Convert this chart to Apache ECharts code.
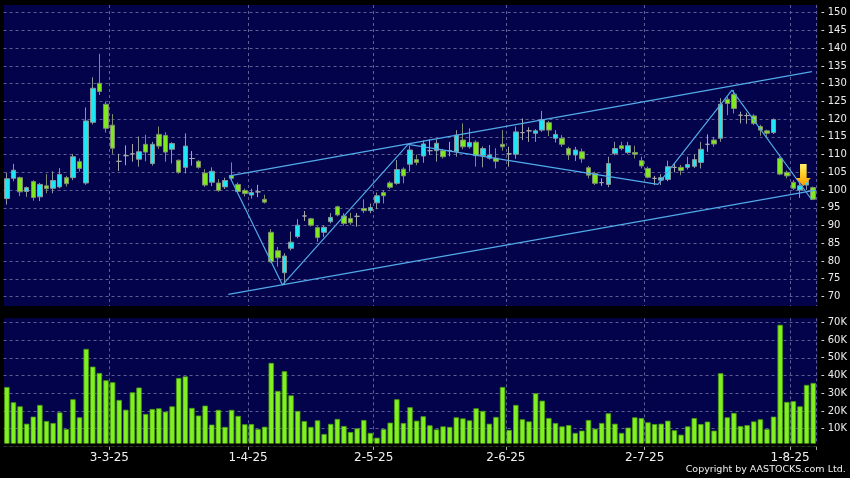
<!DOCTYPE html>
<html><head><meta charset="utf-8">
<script src="https://cdn.jsdelivr.net/npm/echarts@6/dist/echarts.min.js"></script>
<style>html,body{margin:0;padding:0;background:#000;}#c{width:850px;height:478px;}</style>
</head><body><div id="c"></div>
<script>
// trading days (D-M-YY)
const dates = [
'7-2-25','10-2-25','11-2-25','12-2-25','13-2-25','14-2-25','17-2-25','18-2-25','19-2-25','20-2-25','21-2-25','24-2-25','25-2-25','26-2-25','27-2-25','28-2-25',
'3-3-25','4-3-25','5-3-25','6-3-25','7-3-25','10-3-25','11-3-25','12-3-25','13-3-25','14-3-25','17-3-25','18-3-25','19-3-25','20-3-25','21-3-25','24-3-25','25-3-25','26-3-25','27-3-25','28-3-25','31-3-25',
'1-4-25','2-4-25','3-4-25','7-4-25','8-4-25','9-4-25','10-4-25','11-4-25','14-4-25','15-4-25','16-4-25','17-4-25','22-4-25','23-4-25','24-4-25','25-4-25','28-4-25','29-4-25','30-4-25',
'2-5-25','6-5-25','7-5-25','8-5-25','9-5-25','12-5-25','13-5-25','14-5-25','15-5-25','16-5-25','19-5-25','20-5-25','21-5-25','22-5-25','23-5-25','26-5-25','27-5-25','28-5-25','29-5-25','30-5-25',
'2-6-25','3-6-25','4-6-25','5-6-25','6-6-25','9-6-25','10-6-25','11-6-25','12-6-25','13-6-25','16-6-25','17-6-25','18-6-25','19-6-25','20-6-25','23-6-25','24-6-25','25-6-25','26-6-25','27-6-25','30-6-25',
'2-7-25','3-7-25','4-7-25','7-7-25','8-7-25','9-7-25','10-7-25','11-7-25','14-7-25','15-7-25','16-7-25','17-7-25','18-7-25','21-7-25','22-7-25','23-7-25','24-7-25','25-7-25','28-7-25','29-7-25','30-7-25','31-7-25',
'1-8-25','4-8-25','5-8-25','6-8-25'];
const monthLabels = ['3-3-25','1-4-25','2-5-25','2-6-25','2-7-25','1-8-25'];

const opens = [97.6,103.3,103.5,99.6,102.4,98.1,101.2,100.5,100.9,103.5,103.5,108.0,102.0,119.1,130.1,124.2,
118.3,108.1,109.7,110.2,108.7,112.9,107.5,115.7,115.4,111.5,108.4,106.4,108.9,108.1,104.8,102.2,102.0,100.9,104.1,101.6,99.9,
98.6,99.5,97.4,88.1,82.9,76.7,83.6,86.9,92.7,91.9,89.4,88.1,91.1,95.3,92.7,92.0,92.6,94.8,94.2,
96.4,99.3,102.0,101.9,105.9,107.3,108.6,109.6,111.1,111.1,111.1,111.1,110.8,114.1,112.2,113.5,109.7,109.0,109.0,112.9,
110.2,110.1,116.2,116.7,116.0,116.9,119.0,114.6,114.6,111.7,109.9,110.8,106.3,104.7,102.1,101.6,110.3,112.5,110.6,110.6,108.3,
106.1,103.3,102.8,103.0,106.4,106.4,106.4,106.7,107.8,112.9,114.1,114.6,125.6,127.0,121.1,121.0,120.9,117.9,116.7,116.2,108.9,105.0,
102.2,100.0,101.4,100.7];
const closes = [103.2,105.6,99.5,100.7,97.9,101.6,100.4,102.7,104.4,101.8,109.4,106.1,119.5,128.7,127.8,117.4,
111.8,108.1,109.7,110.2,110.8,110.7,112.9,112.4,110.7,113.1,105.0,112.4,108.9,106.4,101.4,105.3,99.9,102.7,103.3,99.6,99.0,
99.3,99.5,96.6,79.8,80.9,81.4,85.3,90.1,92.7,90.1,86.6,89.5,92.3,93.0,90.6,90.8,92.6,94.2,95.1,
98.4,98.4,100.8,105.8,104.0,111.3,107.8,113.0,111.1,113.2,109.4,111.1,115.5,112.2,113.4,109.7,111.7,109.9,108.1,112.2,
110.2,116.4,116.2,116.7,116.7,119.9,116.9,115.7,112.9,109.9,111.3,108.8,104.2,101.9,102.1,107.5,111.7,111.7,112.5,110.1,106.8,
103.6,103.3,103.5,106.6,106.4,105.5,107.2,108.6,111.5,112.9,113.0,124.2,124.4,123.0,121.1,121.0,118.8,116.9,116.0,119.9,104.5,104.0,
100.5,101.2,102.8,97.4];
const lows = [95.9,102.5,98.3,98.1,97.0,96.9,99.1,99.1,100.5,101.0,102.8,105.2,101.5,118.5,126.8,116.2,
110.2,105.4,107.0,108.0,106.6,108.1,106.9,111.6,108.0,107.5,104.6,104.7,106.9,106.0,100.9,101.1,99.5,100.3,102.7,99.2,98.2,
97.6,98.0,96.2,79.5,78.4,73.5,83.0,86.4,91.3,89.7,85.4,86.8,90.6,92.6,90.0,90.2,89.7,93.5,93.5,
94.6,96.2,100.3,101.5,101.9,105.2,107.0,107.7,109.9,108.0,108.9,109.5,109.4,111.5,111.7,106.6,106.4,108.6,106.1,111.1,
106.6,108.8,114.1,113.6,113.6,116.4,115.2,113.4,112.2,108.5,108.2,107.7,103.3,101.4,101.2,100.8,109.8,111.2,110.2,108.9,106.1,
103.3,101.4,101.4,102.5,105.0,104.2,105.8,106.2,106.1,110.8,112.2,113.6,121.1,121.6,118.8,118.7,118.3,115.3,115.0,115.8,104.2,103.3,
100.0,97.8,100.0,97.2];
const highs = [104.9,107.4,103.8,101.0,102.8,102.0,104.5,105.3,106.2,104.0,110.2,108.9,123.3,131.8,138.4,124.9,
121.4,110.2,112.6,113.0,115.1,115.6,113.6,117.9,116.3,113.5,108.6,116.0,111.0,108.5,105.9,106.4,103.1,103.5,107.8,102.1,100.4,
100.4,101.5,98.7,89.0,84.0,82.2,88.3,91.8,94.1,92.2,89.8,90.0,93.5,95.6,93.5,93.6,93.5,97.4,96.2,
99.3,100.0,102.5,108.5,106.4,112.5,110.0,114.0,114.3,114.3,111.6,113.6,116.9,118.8,117.4,114.0,112.3,112.7,111.8,116.9,
112.2,117.9,120.2,117.7,117.2,122.3,119.5,116.9,115.5,112.2,112.2,111.7,106.8,105.2,103.3,109.4,113.6,113.6,113.6,112.5,109.4,
106.6,104.0,104.5,108.3,107.4,107.1,109.4,110.1,113.6,115.7,115.0,125.9,126.3,128.2,122.1,121.8,121.4,118.4,117.0,120.2,109.4,105.5,
102.8,102.3,103.3,101.0];
// volume in thousands of shares
const volumesK = [33.5,24.9,22.6,12.8,16.8,23.4,14.3,13.2,19.2,9.8,26.6,16.4,55.0,45.0,41.4,37.3,
36.2,26.2,20.7,30.5,33.2,18.3,21.1,21.5,19.6,22.6,38.6,39.5,21.7,17.4,23.0,12.3,20.6,11.0,20.6,17.2,12.5,
12.6,9.8,11.1,47.1,31.3,42.4,28.8,20.0,14.3,11.0,14.7,7.0,12.7,15.5,11.5,8.1,10.2,14.9,7.6,
4.9,9.8,13.4,26.6,13.2,22.1,14.5,17.0,11.9,9.6,11.3,11.0,16.4,15.8,14.7,21.5,20.0,12.8,16.6,33.5,
9.3,23.4,15.3,14.1,30.0,25.8,16.0,13.2,11.3,12.0,7.6,8.9,14.9,10.0,13.2,18.7,12.8,7.6,10.6,16.4,16.0,
13.6,12.6,12.8,14.5,9.1,6.6,11.3,16.0,12.6,14.0,8.9,41.3,16.4,18.9,11.5,12.0,14.1,15.3,9.8,16.8,68.6,25.1,
25.5,22.6,34.7,35.8];
const priceAxis = {min:70, max:150, step:5};
const volAxis = {min:0, max:70000, step:10000};
// trend lines: [candle position, price]
const zigzag = [[33.65,104.05],[41.7,73.25],[60.7,112.9],[98.5,101.6],[109.7,128.2],[121.8,97.2]];
const channelUpper = [[33.65,104.0],[121.8,133.4]];
const channelLower = [[33.5,70.6],[122.4,100.0]];
const arrowPoint = [[120.5,104.25]];

const FONT = 'DejaVu Sans';
const N = dates.length;
const isMonthStart = (i, v) => monthLabels.indexOf(v === undefined ? dates[i] : v) >= 0;
const L = 3.55, W = 813;
const grid = [
  {left:L, width:W, top:12.7, height:283.8},
  {left:L, width:W, top:322.3, height:124.1},
  {left:L, width:W, top:5, height:301},
  {left:L, width:W, top:318.3, height:124.9}
];
const dashed = {color:'#5e5e94', type:[3,3], width:1};
const lineColor = '#52aae8';
const chart = echarts.init(document.getElementById('c'), null, {renderer:'canvas'});
chart.setOption({
  backgroundColor:'#000',
  animation:false,
  grid: grid,
  graphic: [
    {type:'rect', z:-1, shape:{x:4, y:5, width:814, height:301}, style:{fill:'#03034b'}},
    {type:'rect', z:-1, shape:{x:4, y:318.3, width:814, height:125}, style:{fill:'#03034b'}},
    {type:'rect', z:100, shape:{x:0, y:443.4, width:850, height:3.2}, style:{fill:'#000'}},
    {type:'text', z:100, right:4.3, top:465, style:{text:'Copyright by AASTOCKS.com Ltd.', fill:'#f0f0f0', font:'9.5px "DejaVu Sans"'}}
  ],
  xAxis: [
    {type:'category', gridIndex:0, data:dates, boundaryGap:true, axisLine:{show:false}, axisTick:{show:false}, axisLabel:{show:false}, splitLine:{show:false}},
    {type:'category', gridIndex:1, data:dates, boundaryGap:true, axisLine:{show:false},
      axisTick:{show:true, interval:isMonthStart, length:3.5, lineStyle:{color:'#b0b0b0'}},
      axisLabel:{show:true, interval:isMonthStart, color:'#f0f0f0', fontFamily:FONT, fontSize:12, margin:5, padding:[0,6.6,0,0]},
      splitLine:{show:false}},
    {type:'category', gridIndex:2, data:dates, boundaryGap:true, axisLine:{show:false}, axisTick:{show:false}, axisLabel:{show:false},
      splitLine:{show:true, interval:isMonthStart, lineStyle:dashed}},
    {type:'category', gridIndex:3, data:dates, boundaryGap:true, axisLine:{show:false}, axisTick:{show:false}, axisLabel:{show:false},
      splitLine:{show:true, interval:isMonthStart, lineStyle:dashed}},
    {type:'value', gridIndex:0, min:-0.5, max:N-0.5, show:false}
  ],
  yAxis: [
    {type:'value', gridIndex:0, position:'right', min:priceAxis.min, max:priceAxis.max, interval:priceAxis.step,
      axisLine:{show:false}, axisTick:{show:false},
      axisLabel:{margin:4.4, color:'#ececec', fontFamily:FONT, fontSize:10, formatter:v=>'- '+v},
      splitLine:{show:true, lineStyle:dashed}},
    {type:'value', gridIndex:1, position:'right', min:volAxis.min, max:volAxis.max, interval:volAxis.step,
      axisLine:{show:false}, axisTick:{show:false},
      axisLabel:{margin:4.4, color:'#ececec', fontFamily:FONT, fontSize:10, formatter:v=> v===0 ? '' : '- '+(v/1000)+'K'},
      splitLine:{show:true, lineStyle:dashed}},
    {type:'value', gridIndex:2, min:0, max:1, show:false},
    {type:'value', gridIndex:3, min:0, max:1, show:false}
  ],
  series: [
    {type:'candlestick', xAxisIndex:0, yAxisIndex:0, barWidth:5, z:2,
      data: dates.map((d,i)=>[opens[i], closes[i], lows[i], highs[i]]),
      itemStyle:{color:'#1fe6f5', color0:'#7fe81e', borderColor:'#8a9697', borderColor0:'#7f8c72', borderColorDoji:'#a8a8a8', borderWidth:1}},
    {type:'bar', xAxisIndex:1, yAxisIndex:1, barWidth:5.4, z:2,
      data: volumesK.map(v=>v*1000),
      itemStyle:{color:'#80f020', borderColor:'#4b9a12', borderWidth:0.8}},
    {type:'line', xAxisIndex:4, yAxisIndex:0, data:zigzag, symbol:'none', z:3, lineStyle:{color:lineColor, width:1.2}},
    {type:'line', xAxisIndex:4, yAxisIndex:0, data:channelUpper, symbol:'none', z:3, lineStyle:{color:lineColor, width:1.2}},
    {type:'line', xAxisIndex:4, yAxisIndex:0, data:channelLower, symbol:'none', z:3, lineStyle:{color:lineColor, width:1.2}},
    {type:'scatter', xAxisIndex:4, yAxisIndex:0, data:arrowPoint, z:5,
      symbol:'path://M4.2,0 L10.8,0 L10.8,14 L15,14 L7.5,22 L0,14 L4.2,14 Z', symbolSize:[15,22],
      itemStyle:{opacity:1, color:new echarts.graphic.LinearGradient(0,0,0,1,[{offset:0,color:'#fff06a'},{offset:0.5,color:'#ffcc20'},{offset:1,color:'#ff9a00'}])}}
  ]
});
</script></body></html>
